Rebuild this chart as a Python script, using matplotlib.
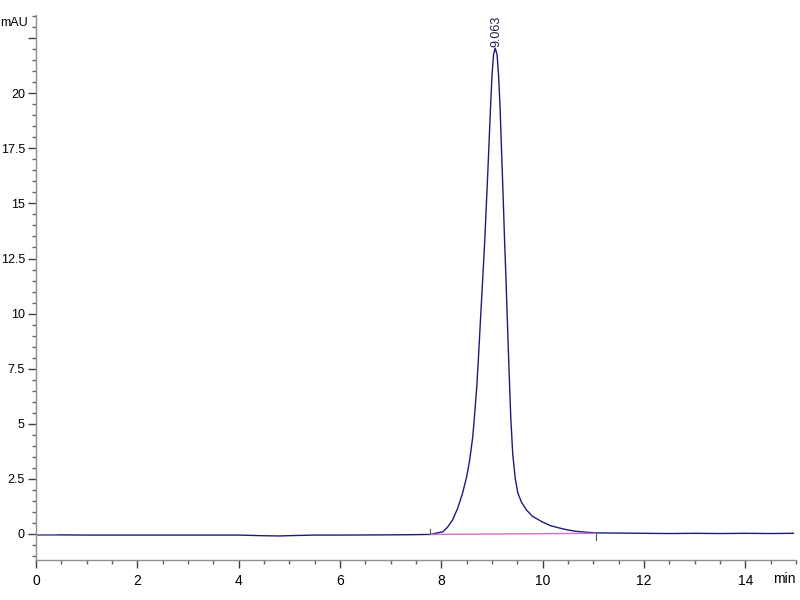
import numpy as np
import matplotlib.pyplot as plt
from matplotlib.ticker import MultipleLocator, FixedLocator

plt.rcParams['font.family'] = ['Liberation Sans', 'DejaVu Sans']

# chromatogram trace (time in min, signal in mAU)
time_min = [0.0, 0.4, 1.0, 2.0, 3.0, 4.0, 4.5, 4.8, 5.1, 5.5, 6.0, 7.0, 7.5, 7.78,
            8.03, 8.12, 8.22, 8.32, 8.42, 8.50, 8.56, 8.62, 8.66, 8.70, 8.73, 8.77,
            8.81, 8.85, 8.89, 8.93, 8.97, 9.00, 9.03, 9.063, 9.10, 9.13, 9.16, 9.19,
            9.22, 9.25, 9.28, 9.31, 9.34, 9.37, 9.41, 9.46, 9.51, 9.58, 9.68, 9.80,
            10.0, 10.15, 10.33, 10.5, 10.66, 10.85, 11.06,
            11.5, 12.0, 12.5, 13.0, 13.5, 14.0, 14.5, 14.95]
signal_mau = [-0.04, -0.04, -0.05, -0.05, -0.05, -0.05, -0.08, -0.09, -0.07, -0.05,
              -0.05, -0.04, -0.03, -0.02,
              0.1, 0.3, 0.63, 1.15, 1.86, 2.6, 3.36, 4.4, 5.5, 6.7, 7.9, 9.6,
              11.3, 13.0, 15.0, 17.1, 19.3, 20.8, 21.75, 22.05, 21.75, 20.8, 19.3, 17.3,
              15.3, 13.2, 11.3, 9.2, 7.2, 5.3, 3.6, 2.5, 1.86, 1.45, 1.09, 0.8,
              0.54, 0.38, 0.27, 0.18, 0.12, 0.08, 0.05,
              0.04, 0.03, 0.02, 0.03, 0.02, 0.03, 0.02, 0.03]

# integration baseline of the peak
base_t = [7.78, 11.06]
base_v = [-0.02, 0.03]
peak_rt = 9.063
peak_h = 22.05

y_major = [0, 2.5, 5, 7.5, 10, 12.5, 15, 17.5, 20, 22.5]
y_labels = ['0', '2.5', '5', '7.5', '10', '12.5', '15', '17.5', '20', '']

fig = plt.figure(figsize=(8, 6), dpi=100)
ax = fig.add_axes([0.045, 0.0667, 0.95, 0.9083])

ax.plot(time_min, signal_mau, color='#1c1c78', lw=1.0)
ax.plot(time_min[:2], signal_mau[:2], color='#7a7ab8', lw=1.2)
ax.plot(base_t, base_v, color='#d070d0', lw=1.0)
# start/end marks of the integration
ax.plot([base_t[0], base_t[0]], [base_v[0], base_v[0] + 0.25], color='#555555', lw=0.8)
ax.plot([base_t[1], base_t[1]], [base_v[1], base_v[1] - 0.3], color='#555555', lw=0.8)

ax.text(peak_rt + 0.02, peak_h + 0.05, f'{peak_rt:.3f}', rotation=90, ha='center',
        va='bottom', fontsize=9, color='#1c1c50')

ax.set_xlim(0, 15)
ax.set_ylim(-1.18, 23.55)

ax.xaxis.set_major_locator(MultipleLocator(2))
ax.xaxis.set_minor_locator(MultipleLocator(0.5))
ax.yaxis.set_major_locator(FixedLocator(y_major))
ax.set_yticklabels(y_labels)
ax.yaxis.set_minor_locator(MultipleLocator(0.5))

for s in ['top', 'right']:
    ax.spines[s].set_visible(False)
for s in ['left', 'bottom']:
    ax.spines[s].set_color('#909090')
    ax.spines[s].set_linewidth(1.0)

ax.tick_params(axis='both', which='major', length=6, width=1, color='#404040',
               labelsize=9, pad=2)
ax.tick_params(axis='x', which='major', labelsize=10, pad=4)
ax.tick_params(axis='both', which='minor', length=3, width=1, color='#606060')

ax.text(-0.011, 0.985, 'mAU', transform=ax.transAxes, ha='right', va='center', fontsize=9)
ax.text(0.985, -0.035, 'min', transform=ax.transAxes, ha='center', va='center', fontsize=10)

fig.savefig('out.png', dpi=100)
